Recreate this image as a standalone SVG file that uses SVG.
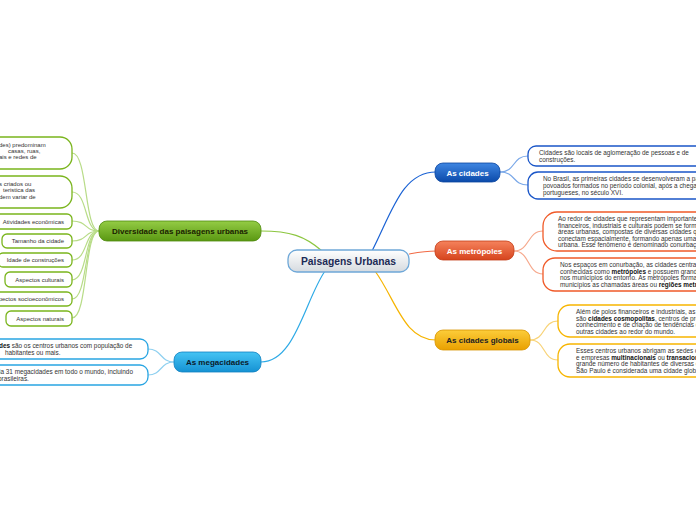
<svg xmlns="http://www.w3.org/2000/svg" width="696" height="520" viewBox="0 0 696 520">
<defs>
<linearGradient id="gC" x1="0" y1="0" x2="0" y2="1"><stop offset="0" stop-color="#ffffff"/><stop offset="1" stop-color="#d5dadf"/></linearGradient>
<linearGradient id="gB" x1="0" y1="0" x2="0" y2="1"><stop offset="0" stop-color="#3f86e2"/><stop offset="1" stop-color="#0b4aaa"/></linearGradient>
<linearGradient id="gO" x1="0" y1="0" x2="0" y2="1"><stop offset="0" stop-color="#f5825c"/><stop offset="1" stop-color="#d6441d"/></linearGradient>
<linearGradient id="gY" x1="0" y1="0" x2="0" y2="1"><stop offset="0" stop-color="#fccd3a"/><stop offset="1" stop-color="#e9a000"/></linearGradient>
<linearGradient id="gG" x1="0" y1="0" x2="0" y2="1"><stop offset="0" stop-color="#94cc44"/><stop offset="1" stop-color="#5a9812"/></linearGradient>
<linearGradient id="gL" x1="0" y1="0" x2="0" y2="1"><stop offset="0" stop-color="#45c4f4"/><stop offset="1" stop-color="#1592d3"/></linearGradient>
</defs>
<style>
.t{font-family:"Liberation Sans",Arial,sans-serif;font-size:6px;fill:#333}
.p{font-size:6.4px}
.b{font-weight:bold;fill:#111}
.n{font-family:"Liberation Sans",Arial,sans-serif;font-size:8px;font-weight:bold;text-anchor:middle}
.box{fill:#fff;stroke-width:1.3}
.c{fill:none;stroke-width:1.2}
</style>
<rect width="696" height="520" fill="#fff"/>
<g id="connectors">
<path class="c" stroke="#1a62d4" d="M372,251 C392,212 402,172 436,172"/>
<path class="c" stroke="#f26a45" d="M409,254 C420,252 425,251 436,251"/>
<path class="c" stroke="#f6b400" d="M375,271 C396,300 404,340 436,340"/>
<path class="c" stroke="#8cc63f" d="M322,251 C305,236 290,231 261,231"/>
<path class="c" stroke="#2eaae6" d="M325,271 C305,300 295,362 261,362"/>
<g stroke="#7aa8e8" class="c" stroke-width="0.8">
<path d="M500,172 C516,172 512,156 528,156"/>
<path d="M500,172 C516,172 512,185 528,185"/>
</g>
<g stroke="#f6a88c" class="c" stroke-width="0.8">
<path d="M514,251 C530,251 527,231 543,231"/>
<path d="M514,251 C530,251 527,274 543,274"/>
</g>
<g stroke="#f8d377" class="c" stroke-width="0.8">
<path d="M530,340 C546,340 542,321 558,321"/>
<path d="M530,340 C546,340 542,360 558,360"/>
</g>
<g stroke="#8fd0f0" class="c" stroke-width="0.8">
<path d="M174,362 C160,362 162,349 148,349"/>
<path d="M174,362 C160,362 162,375 148,375"/>
</g>
<g stroke="#b8dc88" class="c" stroke-width="0.8">
<path d="M99,231 C84,231 88,153 72,153"/>
<path d="M99,231 C84,231 88,192 72,192"/>
<path d="M99,231 C84,231 88,221 72,221"/>
<path d="M99,231 C84,231 88,241 72,241"/>
<path d="M99,231 C84,231 88,260 72,260"/>
<path d="M99,231 C84,231 88,280 72,280"/>
<path d="M99,231 C84,231 88,299 72,299"/>
<path d="M99,231 C84,231 88,318 72,318"/>
</g>
</g>
<g id="central">
<rect x="288" y="250" width="121" height="22" rx="9" fill="url(#gC)" stroke="#6fa8d8" stroke-width="1.3"/>
<text x="348.5" y="265" font-family="Liberation Sans,Arial,sans-serif" font-size="10.3" font-weight="bold" fill="#1c2a56" text-anchor="middle">Paisagens Urbanas</text>
</g>
<g id="as-cidades">
<rect x="435" y="163" width="65" height="19" rx="8" fill="url(#gB)" stroke="#0b45a0" stroke-width="0.8"/>
<text class="n" x="467.5" y="175.5" fill="#fff">As cidades</text>
</g>
<g id="cidades-t1">
<rect class="box" x="528" y="146" width="200" height="20" rx="8" stroke="#1a56c8"/>
<text class="t p" x="539" y="155">Cidades são locais de aglomeração de pessoas e de</text>
<text class="t p" x="539" y="162">construções.</text>
</g>
<g id="cidades-t2">
<rect class="box" x="528" y="172" width="200" height="27" rx="10" stroke="#1a56c8"/>
<text class="t p" x="543" y="181">No Brasil, as primeiras cidades se desenvolveram a partir de</text>
<text class="t p" x="543" y="188">povoados formados no período colonial, após a chegada dos</text>
<text class="t p" x="543" y="195">portugueses, no século XVI.</text>
</g>
<g id="as-metropoles">
<rect x="435" y="241" width="79" height="19" rx="8" fill="url(#gO)" stroke="#c43e18" stroke-width="0.8"/>
<text class="n" x="474.5" y="253.5" fill="#fff">As metrópoles</text>
</g>
<g id="metropoles-t1">
<rect class="box" x="543" y="212" width="200" height="39" rx="14" stroke="#f05a28"/>
<text class="t p" x="558" y="221">Ao redor de cidades que representam importantes centros</text>
<text class="t p" x="558" y="227.5">financeiros, industriais e culturais podem se formar grandes</text>
<text class="t p" x="558" y="234">áreas urbanas, compostas de diversas cidades que se</text>
<text class="t p" x="558" y="240.5">conectam espacialmente, formando apenas uma mancha</text>
<text class="t p" x="558" y="247">urbana. Esse fenômeno é denominado conurbação.</text>
</g>
<g id="metropoles-t2">
<rect class="box" x="543" y="258" width="200" height="33" rx="12" stroke="#f05a28"/>
<text class="t p" x="560" y="267">Nos espaços em conurbação, as cidades centrais são</text>
<text class="t p" x="560" y="273.5">conhecidas como <tspan class="b">metrópoles</tspan> e possuem grande influência</text>
<text class="t p" x="560" y="280">nos municípios do entorno. As metrópoles formam com esses</text>
<text class="t p" x="560" y="286.5">municípios as chamadas áreas ou <tspan class="b">regiões metropolitanas</tspan>.</text>
</g>
<g id="as-cidades-globais">
<rect x="435" y="330" width="95" height="20" rx="8" fill="url(#gY)" stroke="#d89400" stroke-width="0.8"/>
<text class="n" x="482.5" y="343" fill="#222">As cidades globais</text>
</g>
<g id="globais-t1">
<rect class="box" x="558" y="305" width="200" height="32" rx="12" stroke="#f7b500"/>
<text class="t p" x="576" y="314">Além de polos financeiros e industriais, as cidades globais</text>
<text class="t p" x="576" y="320.5">são <tspan class="b">cidades cosmopolitas</tspan>, centros de produção de</text>
<text class="t p" x="576" y="327">conhecimento e de criação de tendências que influenciam</text>
<text class="t p" x="576" y="333.5">outras cidades ao redor do mundo.</text>
</g>
<g id="globais-t2">
<rect class="box" x="558" y="344" width="200" height="33" rx="12" stroke="#f7b500"/>
<text class="t p" x="576" y="353">Esses centros urbanos abrigam as sedes de bancos</text>
<text class="t p" x="576" y="359.5">e empresas <tspan class="b">multinacionais</tspan> ou <tspan class="b">transacionais</tspan> e</text>
<text class="t p" x="576" y="366">grande número de habitantes de diversas culturas.</text>
<text class="t p" x="576" y="372.5">São Paulo é considerada uma cidade global.</text>
</g>
<g id="diversidade">
<rect x="99" y="221" width="162" height="20" rx="8" fill="url(#gG)" stroke="#4f8a0e" stroke-width="0.8"/>
<text class="n" x="180" y="234" fill="#1a2200">Diversidade das paisagens urbanas</text>
</g>
<g id="div-t1">
<rect class="box" x="-40" y="137" width="112" height="32" rx="12" stroke="#7ab51d"/>
<text class="t" x="-1" y="146.5">des) predominam</text>
<text class="t" x="8" y="152.5">casas, ruas,</text>
<text class="t" x="-1" y="158.5">ais e redes de</text>
</g>
<g id="div-t2">
<rect class="box" x="-40" y="176" width="112" height="32" rx="12" stroke="#7ab51d"/>
<text class="t" x="-1" y="186">s criados ou</text>
<text class="t" x="3" y="192">teristica das</text>
<text class="t" x="-1" y="198.5">dem variar de</text>
</g>
<g id="div-atividades">
<rect class="box" x="-20" y="214" width="92" height="15" rx="5" stroke="#7ab51d"/>
<text class="t" x="64" y="223.5" text-anchor="end">Atividades  econômicas</text>
</g>
<g id="div-tamanho">
<rect class="box" x="2" y="234" width="70" height="14" rx="5" stroke="#7ab51d"/>
<text class="t" x="64" y="243" text-anchor="end">Tamanho da cidade</text>
</g>
<g id="div-idade">
<rect class="box" x="-2" y="253" width="74" height="14" rx="5" stroke="#7ab51d"/>
<text class="t" x="64" y="262" text-anchor="end">Idade de construções</text>
</g>
<g id="div-culturais">
<rect class="box" x="5" y="272" width="67" height="15" rx="5" stroke="#7ab51d"/>
<text class="t" x="64" y="281.5" text-anchor="end">Aspectos culturais</text>
</g>
<g id="div-socio">
<rect class="box" x="-10" y="292" width="82" height="14" rx="5" stroke="#7ab51d"/>
<text class="t" x="64" y="301" text-anchor="end">Aspectos socioeconômicos</text>
</g>
<g id="div-naturais">
<rect class="box" x="6" y="311" width="66" height="15" rx="5" stroke="#7ab51d"/>
<text class="t" x="64" y="320.5" text-anchor="end">Aspectos naturais</text>
</g>
<g id="as-megacidades">
<rect x="174" y="352" width="87" height="20" rx="8" fill="url(#gL)" stroke="#1282c0" stroke-width="0.8"/>
<text class="n" x="217.5" y="365" fill="#0a1a2a">As megacidades</text>
</g>
<g id="mega-t1">
<rect class="box" x="-30" y="339" width="178" height="20" rx="8" stroke="#29a5e2"/>
<text class="t p" x="-1" y="348"><tspan class="b">des</tspan> são os centros urbanos com população de</text>
<text class="t p" x="5" y="355">habitantes ou mais.</text>
</g>
<g id="mega-t2">
<rect class="box" x="-30" y="365" width="178" height="20" rx="8" stroke="#29a5e2"/>
<text class="t p" x="-1" y="374">ia 31 megacidades em todo o mundo, incluindo</text>
<text class="t p" x="-2" y="381">brasileiras.</text>
</g>
</svg>
